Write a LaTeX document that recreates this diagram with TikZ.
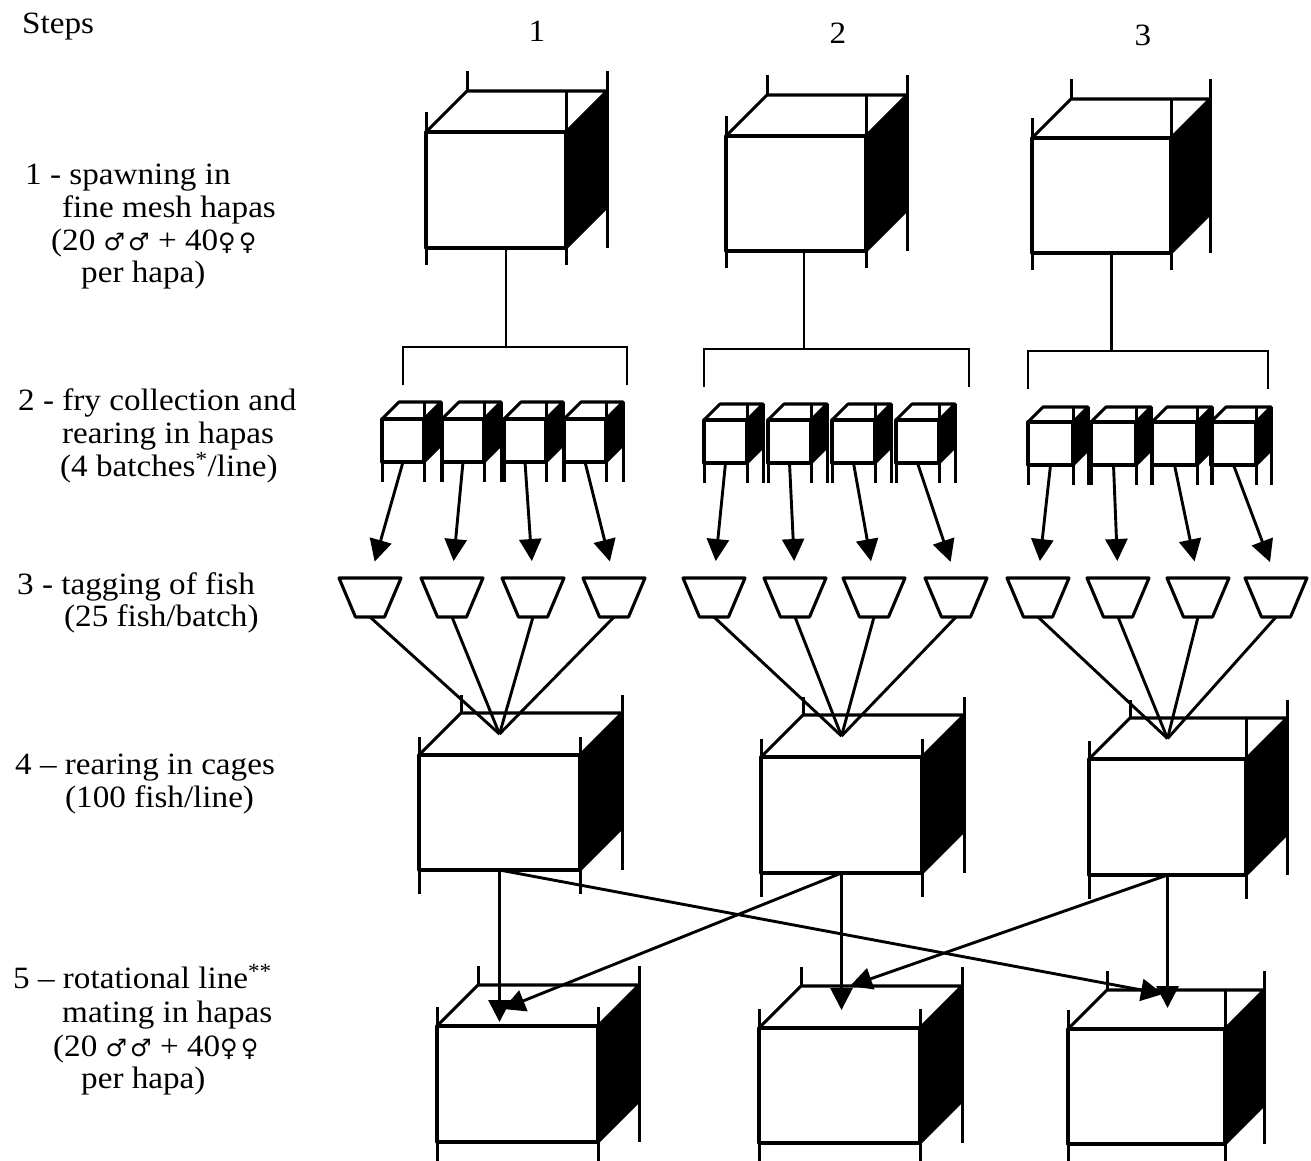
\documentclass[tikz,border=0pt]{standalone}
\usepackage{fontspec}
\setmainfont[FakeStretch=1.07]{Liberation Serif}
\newfontfamily\symfont{DejaVu Sans}
\usetikzlibrary{arrows.meta,calc}
\newcommand\lblfont{\fontsize{31}{33}\selectfont}
\newcommand\gsym[1]{{\symfont\fontsize{24}{24}\selectfont #1}}
% #1 name #2 x #3 y #4 w #5 h #6 depth #7 post top ext #8 post bottom ext #9 front-right post top offset
\newcommand\hcube[9]{%
  \fill[hmesh] (#2+#4,#3) -- (#2+#4+#6,#3-#6) -- (#2+#4+#6,#3+#5-#6) -- (#2+#4,#3+#5) -- cycle;
  \draw[hbox] (#2,#3) rectangle (#2+#4,#3+#5);
  \draw[hbox] (#2,#3) -- (#2+#6,#3-#6) -- (#2+#4+#6,#3-#6) -- (#2+#4,#3);
  \draw[hbox] (#2+#4+#6,#3-#6) -- (#2+#4+#6,#3+#5-#6) -- (#2+#4,#3+#5);
  \draw[hpost] (#2,#3-#7) -- (#2,#3+#5+#8);
  \ifnum#7>0 \draw[hpost] (#2+#6,#3-#6-#7) -- (#2+#6,#3-#6);\fi
  \draw[hpost] (#2+#4,#3-#9) -- (#2+#4,#3+#5+#8);
  \ifnum#7>0 \draw[hpost] (#2+#4+#6,#3-#6-#7) -- (#2+#4+#6,#3+#5);%
  \else \draw[hpost] (#2+#4+#6,#3-#6) -- (#2+#4+#6,#3+#5+#8);\fi
  \coordinate (#1-bot) at (#2+#4/2,#3+#5);
  \coordinate (#1-top) at (#2+#4/2,#3-#6/2);
}
% trapezoid: #1 name #2 x-left #3 y-top
\newcommand\htrap[3]{%
  \draw[hbox] (#2,#3) -- (#2+62,#3) -- (#2+45.5,#3+39) -- (#2+16.5,#3+39) -- cycle;
  \coordinate (#1-top) at (#2+31,#3);
  \coordinate (#1-bot) at (#2+31,#3+39);
}
\tikzset{
  hbox/.style={line width=3.1pt, line join=round},
  hpost/.style={line width=3pt},
  hmesh/.style={fill=black},
  hconn/.style={line width=2.9pt},
  harrow/.style={line width=2.9pt, -{Triangle[length=22pt,width=22pt]}},
  hlbl/.style={anchor=base west, inner sep=0pt, font=\lblfont},
}
\begin{document}
\begin{tikzpicture}[x=1pt,y=-1pt]
\useasboundingbox (0,0) rectangle (1311,1160);

% ---- texts ----
\node[hlbl] (steps) at (22,33) {Steps};
\node[hlbl, anchor=base] (col1) at (537,41) {1};
\node[hlbl, anchor=base] (col2) at (838,43) {2};
\node[hlbl, anchor=base] (col3) at (1143,45) {3};

\node[hlbl] (l1a) at (25,184) {1 - spawning in};
\node[hlbl] (l1b) at (62,217) {fine mesh hapas};
\node[hlbl] (l1c) at (51,250) {(20 \gsym{♂\hspace{3pt}♂} + 40\gsym{♀\hspace{3pt}♀}};
\node[hlbl] (l1d) at (81,282) {per hapa)};

\node[hlbl] (l2a) at (18,410) {2 - fry collection and};
\node[hlbl] (l2b) at (62,443) {rearing in hapas};
\node[hlbl] (l2c) at (60,476) {(4 batches\textsuperscript{*}/line)};

\node[hlbl] (l3a) at (17,594) {3 - tagging of fish};
\node[hlbl] (l3b) at (64,626) {(25 fish/batch)};

\node[hlbl] (l4a) at (15,774) {4 -- rearing in cages};
\node[hlbl] (l4b) at (65,807) {(100 fish/line)};

\node[hlbl] (l5a) at (13,988) {5 -- rotational line\textsuperscript{**}};
\node[hlbl] (l5b) at (62,1022) {mating in hapas};
\node[hlbl] (l5c) at (53,1056) {(20 \gsym{♂\hspace{3pt}♂} + 40\gsym{♀\hspace{3pt}♀}};
\node[hlbl] (l5d) at (81,1088) {per hapa)};

% ---- step 1: spawning hapas ----
\hcube{H1}{426}{132}{140}{116}{41}{20}{17}{41}
\hcube{H2}{726}{136}{140}{115}{41}{20}{17}{41}
\hcube{H3}{1032}{138}{139}{115}{39}{20}{17}{39}

% brackets
\coordinate (K1l) at (403,347); \coordinate (K1r) at (627,347);
\coordinate (K2l) at (704,349); \coordinate (K2r) at (969,349);
\coordinate (K3l) at (1028,351); \coordinate (K3r) at (1268,351);
\foreach \k in {1,2,3}{
  \draw[hconn] ($(K\k l)+(0,38)$) -- (K\k l) -- (K\k r) -- ($(K\k r)+(0,38)$);
}
\draw[hconn] ($(H1-bot)+(10,0)$) coordinate (S1) -- (S1 |- K1l);
\draw[hconn] ($(H2-bot)+(8,0)$) coordinate (S2) -- (S2 |- K2l);
\draw[hconn] ($(H3-bot)+(10,0)$) coordinate (S3) -- (S3 |- K3l);

% ---- step 2: small hapas ----
\foreach \x [count=\i] in {382,442,504,564}{ \hcube{s1\i}{\x}{419}{42}{43}{17}{0}{20}{17} }
\foreach \x [count=\i] in {704,768,832,896}{ \hcube{s2\i}{\x}{420}{43}{43}{16}{0}{20}{16} }
\foreach \x [count=\i] in {1028,1091,1152,1211}{ \hcube{s3\i}{\x}{422}{45}{43}{15}{0}{20}{15} }

% ---- step 3: tagging ----
\foreach \x [count=\i] in {339,421,502,583}{ \htrap{t1\i}{\x}{578} }
\foreach \x [count=\i] in {683,764,843,925}{ \htrap{t2\i}{\x}{578} }
\foreach \x [count=\i] in {1007,1087,1167,1245}{ \htrap{t3\i}{\x}{578} }

\foreach \g in {1,2,3}{
  \foreach \i in {1,2,3,4}{
    \draw[harrow, shorten >=17pt] (s\g\i-bot) -- (t\g\i-top);
  }
}

% ---- step 4: cages ----
\hcube{C1}{419}{755}{161}{115}{42}{18}{24}{18}
\hcube{C2}{761}{757}{161}{116}{42}{18}{24}{18}
\hcube{C3}{1089}{759}{157}{116}{41}{18}{24}{41}

\foreach \g in {1,2,3}{
  \foreach \i in {1,2,3,4}{
    \draw[hconn] (t\g\i-bot) -- (C\g-top);
  }
}

% ---- step 5: rotational mating hapas ----
\hcube{B1}{437}{1026}{161}{116}{41}{19}{22}{19}
\hcube{B2}{759}{1028}{161}{115}{42}{19}{22}{19}
\hcube{B3}{1068}{1029}{157}{115}{39}{19}{22}{39}

\coordinate (B1-in1) at (499.5,1022);
\coordinate (B1-in2) at (503,1009);
\coordinate (B2-in1) at (841.5,1010);
\coordinate (B2-in2) at (850,986);
\coordinate (B3-in1) at (1167.5,1008);
\coordinate (B3-in2) at (1163,994);

\draw[harrow] (C1-bot) -- (B1-in1);
\draw[harrow] (C2-bot) -- (B1-in2);
\draw[harrow] (C2-bot) -- (B2-in1);
\draw[harrow] (C3-bot) -- (B2-in2);
\draw[harrow] (C3-bot) -- (B3-in1);
\draw[harrow] (C1-bot) -- (B3-in2);
\end{tikzpicture}
\end{document}
